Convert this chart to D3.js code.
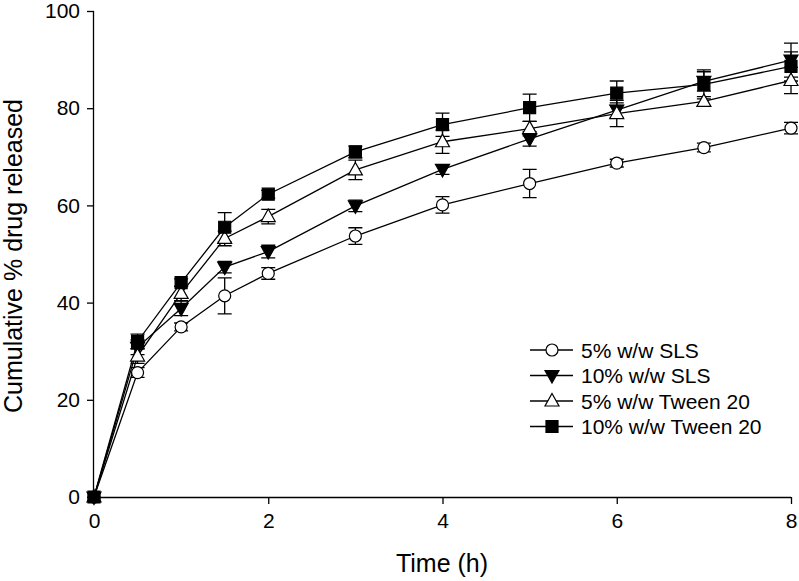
<!DOCTYPE html>
<html>
<head>
<meta charset="utf-8">
<script src="https://cdn.jsdelivr.net/npm/d3@7/dist/d3.min.js"></script>
<style>
html,body{margin:0;padding:0;background:#fff;}
svg{display:block;}
text{font-family:"Liberation Sans",Arial,Helvetica,sans-serif;fill:#000;}
</style>
</head>
<body>
<script>
const time = [0, 0.5, 1, 1.5, 2, 3, 4, 5, 6, 7, 8];
const sls5 = [0, 25.6, 35.0, 41.4, 46.0, 53.7, 60.1, 64.5, 68.7, 71.9, 75.9];
const sls5Err = [0, 1.0, 0.8, 3.7, 1.2, 1.7, 1.7, 2.9, 0.8, 0.9, 1.2];
const sls10 = [0, 30.8, 38.8, 47.3, 50.5, 59.9, 67.4, 73.7, 79.6, 85.5, 89.9];
const sls10Err = [0, 1.5, 1.5, 1.2, 1.3, 1.2, 1.0, 1.5, 1.5, 2.0, 3.5];
const tw5 = [0, 29.0, 41.9, 53.2, 57.7, 67.3, 73.1, 75.8, 78.9, 81.4, 85.7];
const tw5Err = [0, 1.5, 1.5, 1.5, 1.5, 2.0, 2.4, 1.5, 2.7, 1.0, 2.7];
const tw10 = [0, 32.0, 44.1, 55.5, 62.3, 71.0, 76.6, 80.1, 83.1, 84.9, 88.6];
const tw10Err = [0, 1.5, 0.8, 3.0, 0.8, 1.2, 2.4, 2.8, 2.5, 3.0, 3.0];
const seriesNames = ["5% w/w SLS", "10% w/w SLS", "5% w/w Tween 20", "10% w/w Tween 20"];
const xTicks = [0, 2, 4, 6, 8];
const yTicks = [0, 20, 40, 60, 80, 100];

const series = [
  {name: seriesNames[0], vals: sls5, err: sls5Err, shape: "circle", fill: "#fff"},
  {name: seriesNames[1], vals: sls10, err: sls10Err, shape: "down", fill: "#000"},
  {name: seriesNames[2], vals: tw5, err: tw5Err, shape: "up", fill: "#fff"},
  {name: seriesNames[3], vals: tw10, err: tw10Err, shape: "square", fill: "#000"}
];

const W = 799, H = 581;
const svg = d3.select("body").append("svg").attr("width", W).attr("height", H);
const x = d3.scaleLinear().domain([0, 8]).range([94, 791]);
const y = d3.scaleLinear().domain([0, 100]).range([497, 11]);

function shapePath(s) {
  if (s === "circle") return d3.symbol(d3.symbolCircle, Math.PI * 6 * 6)();
  if (s === "square") return "M-6,-6H6V6H-6Z";
  if (s === "up") return "M0,-7.5L7,5L-7,5Z";
  if (s === "down") return "M0,7.5L7,-5L-7,-5Z";
}

// axes
const yAxis = d3.axisLeft(y).tickValues(yTicks).tickSize(7).tickPadding(7).tickFormat(d3.format("d"));
const gy = svg.append("g").attr("transform", "translate(94,0)").call(yAxis);
const xAxis = d3.axisBottom(x).tickValues(xTicks).tickSize(7).tickPadding(9).tickFormat(d3.format("d"));
const gx = svg.append("g").attr("transform", "translate(0,497)").call(xAxis);
[gx, gy].forEach(g => {
  g.select(".domain").attr("stroke", "#000").attr("stroke-width", 1.3);
  g.selectAll(".tick line").attr("stroke", "#000").attr("stroke-width", 1.3);
  g.selectAll(".tick text").style("font-size", "21px").style("font-family", '"Liberation Sans",Arial,sans-serif').attr("fill", "#000");
});
gx.select(".domain").attr("d", "M94,0.5H791");
gy.select(".domain").attr("d", "M-0.5,497V11");

svg.append("text").attr("x", 442).attr("y", 572).attr("text-anchor", "middle")
  .style("font-size", "25px").text("Time (h)");
svg.append("text").attr("transform", "translate(22,256) rotate(-90)").attr("text-anchor", "middle")
  .style("font-size", "25px").text("Cumulative % drug released");

const line = d3.line().x((d, i) => x(time[i])).y(d => y(d));
const plot = svg.append("g");

series.forEach(s => {
  plot.append("path").attr("d", line(s.vals)).attr("fill", "none").attr("stroke", "#000").attr("stroke-width", 1.3);
});
series.forEach(s => {
  const eg = plot.append("g");
  s.vals.forEach((v, i) => {
    if (s.err[i] <= 0) return;
    const cx = x(time[i]);
    const y1 = y(v + s.err[i]), y0 = y(v - s.err[i]);
    eg.append("path").attr("d", `M${cx},${y1}V${y0}M${cx - 7},${y1}H${cx + 7}M${cx - 7},${y0}H${cx + 7}`)
      .attr("stroke", "#000").attr("stroke-width", 1.3).attr("fill", "none");
  });
});
series.forEach(s => {
  plot.append("g").selectAll("path").data(s.vals).join("path")
    .attr("d", shapePath(s.shape))
    .attr("transform", (d, i) => `translate(${x(time[i])},${y(d)})`)
    .attr("fill", s.fill).attr("stroke", "#000").attr("stroke-width", 1.2);
});

// legend
const lg = svg.append("g");
series.forEach((s, i) => {
  const ly = 350 + i * 25.5;
  lg.append("line").attr("x1", 530).attr("x2", 573).attr("y1", ly).attr("y2", ly).attr("stroke", "#000").attr("stroke-width", 1.3);
  lg.append("path").attr("d", shapePath(s.shape)).attr("transform", `translate(552,${ly})`)
    .attr("fill", s.fill).attr("stroke", "#000").attr("stroke-width", 1.2);
  lg.append("text").attr("x", 581).attr("y", ly + 7.5).style("font-size", "21px").text(s.name);
});
</script>
</body>
</html>
